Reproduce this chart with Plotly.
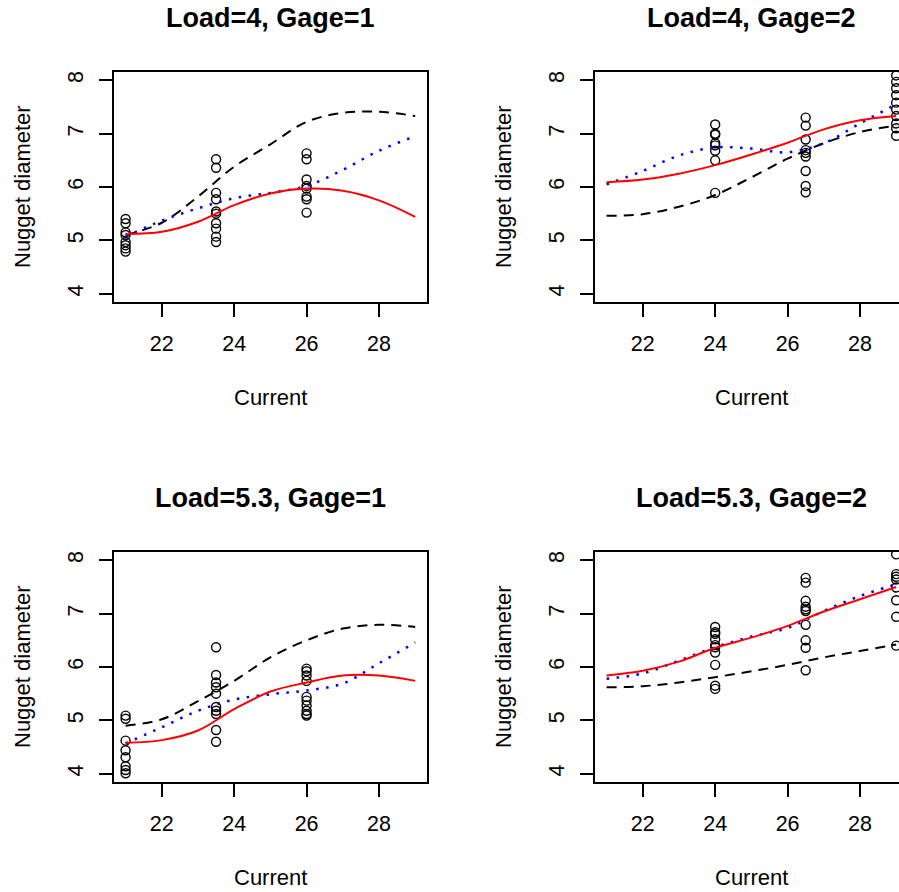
import plotly.graph_objects as go

W, H = 899, 892

# ---- data ----------------------------------------------------------------
titles = ["Load=4, Gage=1", "Load=4, Gage=2", "Load=5.3, Gage=1", "Load=5.3, Gage=2"]
x_ticks = [22, 24, 26, 28]
y_ticks = [4, 5, 6, 7, 8]

# observed nugget diameters per current level
tl_x = [21, 23.5, 26]
tl_y = [
    [5.40, 5.32, 5.15, 5.10, 4.97, 4.91, 4.85, 4.79],
    [6.52, 6.36, 5.89, 5.77, 5.54, 5.50, 5.32, 5.22, 5.07, 4.97],
    [6.63, 6.52, 6.14, 6.02, 5.97, 5.82, 5.77, 5.52],
]
tr_x = [24, 26.5, 29]
tr_y = [
    [7.17, 7.00, 6.98, 6.82, 6.78, 6.68, 6.50, 5.89],
    [7.30, 7.15, 6.89, 6.69, 6.64, 6.57, 6.30, 6.02, 5.90],
    [8.09, 7.97, 7.85, 7.72, 7.58, 7.45, 7.33, 7.19, 7.10, 6.96],
]
bl_x = [21, 23.5, 26]
bl_y = [
    [5.09, 5.03, 4.62, 4.44, 4.31, 4.14, 4.07, 4.01],
    [6.37, 5.85, 5.71, 5.62, 5.50, 5.25, 5.18, 5.12, 4.82, 4.60],
    [5.97, 5.92, 5.84, 5.74, 5.44, 5.37, 5.28, 5.18, 5.12, 5.09],
]
br_x = [24, 26.5, 29]
br_y = [
    [6.75, 6.65, 6.62, 6.52, 6.41, 6.37, 6.27, 6.04, 5.65, 5.59],
    [7.67, 7.58, 7.24, 7.13, 7.08, 7.05, 6.79, 6.50, 6.36, 5.94],
    [8.11, 7.74, 7.69, 7.64, 7.49, 7.25, 6.94, 6.40],
]

# fitted curves evaluated on a current grid
curve_x = [21, 22, 23, 24, 25, 26, 27, 28, 29]
tl_red = [5.12, 5.16, 5.35, 5.66, 5.88, 5.97, 5.93, 5.75, 5.44]
tl_blue = [5.07, 5.37, 5.60, 5.79, 5.89, 6.02, 6.32, 6.68, 6.95]
tl_black = [5.10, 5.33, 5.82, 6.38, 6.80, 7.22, 7.39, 7.41, 7.33]

tr_red = [6.09, 6.14, 6.25, 6.41, 6.61, 6.83, 7.08, 7.25, 7.33]
tr_blue = [6.05, 6.30, 6.59, 6.74, 6.72, 6.65, 6.82, 7.19, 7.55]
tr_black = [5.46, 5.49, 5.63, 5.85, 6.18, 6.53, 6.82, 7.03, 7.15]

bl_red = [4.58, 4.63, 4.81, 5.21, 5.54, 5.71, 5.84, 5.84, 5.74]
bl_blue = [4.57, 4.87, 5.18, 5.39, 5.49, 5.56, 5.69, 6.07, 6.46]
bl_black = [4.90, 5.02, 5.36, 5.74, 6.18, 6.50, 6.72, 6.79, 6.75]

br_red = [5.84, 5.93, 6.10, 6.36, 6.55, 6.77, 7.04, 7.27, 7.50]
br_blue = [5.78, 5.88, 6.12, 6.37, 6.57, 6.73, 7.05, 7.33, 7.55]
br_black = [5.62, 5.64, 5.71, 5.81, 5.92, 6.04, 6.18, 6.30, 6.42]

panels = [
    (tl_x, tl_y, tl_red, tl_blue, tl_black),
    (tr_x, tr_y, tr_red, tr_blue, tr_black),
    (bl_x, bl_y, bl_red, bl_blue, bl_black),
    (br_x, br_y, br_red, br_blue, br_black),
]

# ---- layout geometry (pixels) --------------------------------------------
FONT = "Liberation Sans, Arial, Helvetica, sans-serif"
box_left = [114, 595, 114, 595]
box_right = [427, 899, 427, 899]
box_top = [71.7, 71.7, 551.7, 551.7]
box_bot = [302.3, 302.3, 782.3, 782.3]
px_per_x = 36.2
x0 = 20.68
y_range = [3.84, 8.16]


def fx(px):
    return px / W


def fy(py):
    return 1 - py / H


fig = go.Figure()
layout = dict(
    width=W, height=H,
    margin=dict(l=0, r=0, t=0, b=0),
    paper_bgcolor="white", plot_bgcolor="white",
    showlegend=False,
    font=dict(family=FONT, color="black"),
)
annotations = []

for i, (px_list, py_lists, red, blue, black) in enumerate(panels):
    k = i + 1
    xa = "x" if k == 1 else f"x{k}"
    ya = "y" if k == 1 else f"y{k}"
    right_side = i in (1, 3)
    x1 = x0 + (box_right[i] - box_left[i]) / px_per_x

    layout["xaxis" if k == 1 else f"xaxis{k}"] = dict(
        domain=[fx(box_left[i]), fx(box_right[i])],
        range=[x0, x1], anchor=ya,
        showgrid=False, zeroline=False,
        showline=True, linecolor="black", linewidth=1.6, mirror=True,
        ticks="outside", ticklen=13, tickwidth=1.5, tickcolor="black",
        tickvals=x_ticks, tickfont=dict(size=21.5, family=FONT),
        ticklabelstandoff=8,
    )
    layout["yaxis" if k == 1 else f"yaxis{k}"] = dict(
        domain=[fy(box_bot[i]), fy(box_top[i])],
        range=y_range, anchor=xa,
        showgrid=False, zeroline=False,
        showline=True, linecolor="black", linewidth=1.6,
        mirror=not right_side,
        ticks="outside", ticklen=13, tickwidth=1.5, tickcolor="black",
        tickvals=y_ticks, tickangle=-90, tickfont=dict(size=21.5, family=FONT),
        ticklabelstandoff=8,
    )

    # observations as open circles
    xs, ys = [], []
    for xv, col in zip(px_list, py_lists):
        xs += [xv] * len(col)
        ys += col
    fig.add_trace(go.Scatter(
        x=xs, y=ys, xaxis=xa, yaxis=ya, mode="markers",
        marker=dict(symbol="circle-open", size=9, color="black",
                    line=dict(width=1.4, color="black")),
    ))
    # fitted curves
    fig.add_trace(go.Scatter(
        x=curve_x, y=black, xaxis=xa, yaxis=ya, mode="lines",
        line=dict(color="black", width=2, dash="10px,7px", shape="spline"),
    ))
    fig.add_trace(go.Scatter(
        x=curve_x, y=blue, xaxis=xa, yaxis=ya, mode="lines",
        line=dict(color="blue", width=2.5, dash="2.5px,7.5px", shape="spline"),
    ))
    fig.add_trace(go.Scatter(
        x=curve_x, y=red, xaxis=xa, yaxis=ya, mode="lines",
        line=dict(color="red", width=2, shape="spline"),
    ))

    cx = (box_left[i] + box_left[i] + 313) / 2
    cy = (box_top[i] + box_bot[i]) / 2
    dy = 0 if i < 2 else 480
    annotations.append(dict(
        text=titles[i], x=fx(cx), y=fy(18 + dy), xref="paper", yref="paper",
        xanchor="center", yanchor="middle", showarrow=False,
        font=dict(size=27, family=FONT, weight="bold", color="black"),
    ))
    annotations.append(dict(
        text="Current", x=fx(cx), y=fy(397 + dy), xref="paper", yref="paper",
        xanchor="center", yanchor="middle", showarrow=False,
        font=dict(size=22, family=FONT, color="black"),
    ))
    annotations.append(dict(
        text="Nugget diameter", x=fx(box_left[i] - 92), y=fy(cy),
        xref="paper", yref="paper", textangle=-90,
        xanchor="center", yanchor="middle", showarrow=False,
        font=dict(size=22, family=FONT, color="black"),
    ))

layout["annotations"] = annotations
fig.update_layout(**layout)
fig.write_html("out.html")
